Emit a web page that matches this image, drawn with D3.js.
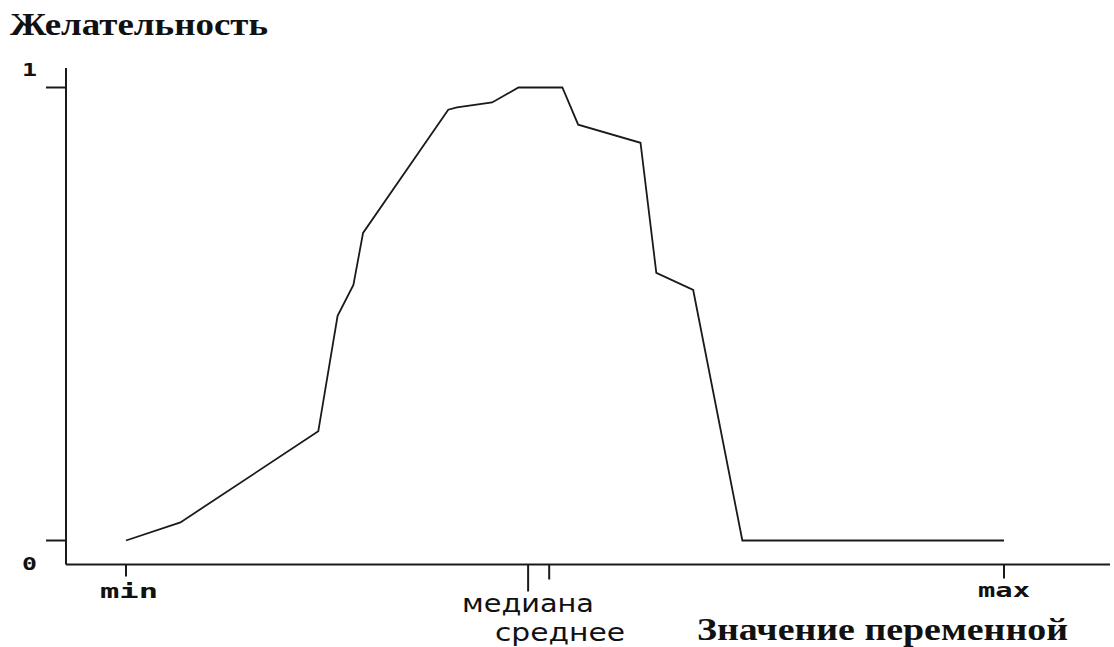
<!DOCTYPE html>
<html>
<head>
<meta charset="utf-8">
<script src="https://cdn.jsdelivr.net/npm/d3@7"></script>
<style>
  html, body { margin: 0; padding: 0; background: #fff; }
  svg { display: block; }
</style>
</head>
<body>
<script>
// ---- data ----
const xValues = [0, 6.2, 21.9, 24.1, 25.9, 27.0, 36.7, 37.7, 41.7, 44.7, 49.7, 51.5, 58.6, 60.4, 64.6, 70.2, 100];
const yValues = [0, 0.04, 0.241, 0.496, 0.564, 0.679, 0.951, 0.956, 0.967, 1, 1, 0.918, 0.878, 0.591, 0.553, 0, 0];
const xTickValues = [0, 45.8, 48.2, 100];
const xTickLabels = ["min", "медиана", "среднее", "max"];
const yTickValues = [0, 1];
const yTickLabels = ["0", "1"];
const titleY = "Желательность";
const titleX = "Значение переменной";

const W = 1114, H = 647;
const svg = d3.select("body").append("svg").attr("width", W).attr("height", H);

const x = d3.scaleLinear().domain([0, 100]).range([126, 1004]);
const y = d3.scaleLinear().domain([0, 1]).range([540.5, 87.5]);

const axisColor = "#1a1a1a";
const originX = 66, originY = 564.5;

// axes lines
svg.append("line").attr("x1", originX).attr("x2", originX).attr("y1", 68).attr("y2", originY)
  .attr("stroke", axisColor).attr("stroke-width", 2);
svg.append("line").attr("x1", originX).attr("x2", 1110).attr("y1", originY).attr("y2", originY)
  .attr("stroke", axisColor).attr("stroke-width", 2);

// y ticks
svg.selectAll(".ytick").data(yTickValues).join("line")
  .attr("x1", 46).attr("x2", originX)
  .attr("y1", d => y(d)).attr("y2", d => y(d))
  .attr("stroke", axisColor).attr("stroke-width", 2);

svg.selectAll(".ylab").data(yTickValues).join("text")
  .attr("x", 22)
  .attr("y", (d, i) => i === 1 ? 76 : 570)
  .attr("font-family", "DejaVu Sans Mono")
  .attr("font-weight", "bold")
  .attr("font-size", 18)
  .attr("textLength", 15).attr("lengthAdjust", "spacingAndGlyphs")
  .attr("fill", "#111")
  .text((d, i) => yTickLabels[i]);

// x ticks
const tickLen = [12, 27, 15, 14];
svg.selectAll(".xtick").data(xTickValues).join("line")
  .attr("x1", d => x(d)).attr("x2", d => x(d))
  .attr("y1", originY).attr("y2", (d, i) => originY + tickLen[i])
  .attr("stroke", axisColor).attr("stroke-width", 2);

// x labels
const labX = [100, 462, 495, 978];
const labW = [58, 132, 130, 52];
const labY = [598, 612, 641, 597];
svg.selectAll(".xlab").data(xTickValues).join("text")
  .attr("x", (d, i) => labX[i])
  .attr("y", (d, i) => labY[i])
  .attr("font-family", (d, i) => (i === 0 || i === 3) ? "DejaVu Sans Mono" : "DejaVu Sans")
  .attr("font-weight", (d, i) => (i === 0 || i === 3) ? "bold" : "normal")
  .attr("font-size", (d, i) => (i === 0 || i === 3) ? 19 : 25)
  .attr("textLength", (d, i) => labW[i]).attr("lengthAdjust", "spacingAndGlyphs")
  .attr("fill", "#111")
  .text((d, i) => xTickLabels[i]);

// titles
svg.append("text").attr("x", 10).attr("y", 35)
  .attr("font-family", "Liberation Serif").attr("font-weight", "bold").attr("font-size", 32)
  .attr("textLength", 258).attr("lengthAdjust", "spacingAndGlyphs")
  .attr("fill", "#111").text(titleY);
svg.append("text").attr("x", 697).attr("y", 640)
  .attr("font-family", "Liberation Serif").attr("font-weight", "bold").attr("font-size", 32)
  .attr("textLength", 371).attr("lengthAdjust", "spacingAndGlyphs")
  .attr("fill", "#111").text(titleX);

// curve
const pts = xValues.map((v, i) => [v, yValues[i]]);
const line = d3.line().x(d => x(d[0])).y(d => y(d[1]));
svg.append("path").attr("d", line(pts))
  .attr("fill", "none").attr("stroke", "#1a1a1a").attr("stroke-width", 1.8)
  .attr("stroke-linejoin", "miter");
</script>
</body>
</html>
